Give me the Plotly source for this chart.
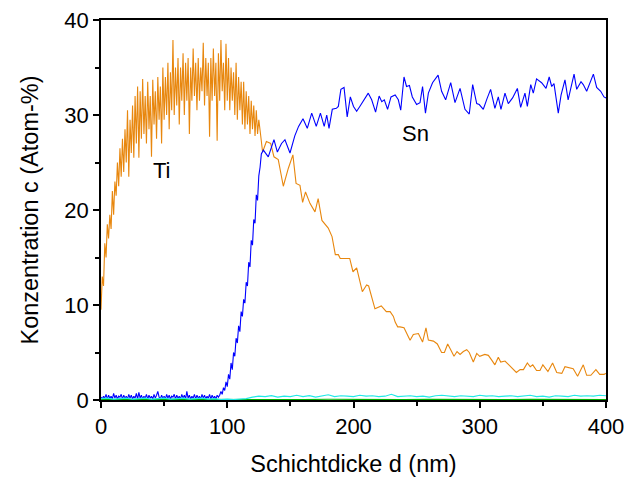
import plotly.graph_objects as go

# ---------------- data ----------------
# Ti, densely sampled part (depth 0..125 nm, 1 nm step)
ti_dense = [9.5, 13.0, 12.0, 16.5, 15.0, 18.5, 17.0, 19.5, 18.0, 22.0,
            19.5, 23.0, 21.5, 25.0, 22.5, 26.5, 23.5, 27.5, 24.0, 28.5,
            25.0, 30.5, 23.5, 29.5, 26.0, 31.0, 25.5, 32.0, 27.0, 33.0,
            25.5, 32.5, 27.5, 33.8, 28.0, 32.0, 27.0, 33.5, 28.5, 32.0,
            25.6, 33.7, 29.0, 32.5, 27.5, 34.0, 29.5, 33.0, 27.0, 35.0,
            29.5, 34.0, 30.0, 35.5, 28.5, 34.5, 30.5, 37.9, 30.0, 35.0,
            31.0, 36.0, 29.0, 35.0, 31.5, 36.5, 30.0, 35.5, 31.5, 36.0,
            28.0, 35.0, 31.5, 37.0, 32.0, 35.5, 30.5, 36.0, 31.5, 35.0,
            32.5, 37.6, 31.0, 36.0, 32.0, 35.5, 27.7, 36.0, 31.5, 37.0,
            32.0, 35.5, 27.3, 36.5, 31.5, 37.9, 32.5, 35.5, 30.5, 37.5,
            31.5, 36.0, 30.5, 35.0, 31.5, 34.5, 30.0, 35.5, 29.5, 34.0,
            30.5, 33.5, 29.0, 33.5, 28.5, 32.5, 29.0, 32.0, 28.0, 31.5,
            28.5, 31.0, 27.8, 30.5, 28.0, 29.5]
ti_dense_step = 1.0

# Ti, coarsely sampled part
ti_sparse_d = [126, 128, 131, 134.4, 137, 140.4, 144.4, 148.4, 152, 154.5,
               157.6, 159.7, 162, 165.5, 169.5, 172, 175, 180, 183, 185.6,
               188, 189.5, 197, 199.6, 202.5, 207, 210.4, 212, 217, 222,
               226, 229, 231.6, 233, 235, 236.8, 240, 244.8, 247.4, 251.4,
               254.7, 257.4, 259.3, 263.3, 266.4, 269.8, 272, 274.6, 277, 279.6,
               282, 284.4, 287, 289.7, 291.7, 294.9, 297.6, 300, 304, 306.8,
               309.5, 312, 314.7, 316.6, 320, 324, 326.5, 329, 332, 334.6,
               337.7, 340, 342, 345, 347.7, 350, 354, 357.7, 361, 365,
               367.5, 371, 374, 377.5, 382, 384.7, 388, 392, 395, 398.4, 400]
ti_sparse_c = [28.4, 26.1, 27.2, 27.0, 25.6, 25.3, 22.5, 24.4, 25.8, 22.8,
               22.6, 20.8, 21.9, 20.7, 19.8, 21.2, 18.9, 18.1, 17.2, 15.3,
               15.3, 14.9, 14.9, 13.5, 13.9, 11.4, 12.1, 12.0, 9.6, 9.9,
               9.3, 9.3, 8.8, 8.2, 7.7, 7.7, 7.6, 6.3, 6.9, 7.0,
               6.1, 7.6, 6.3, 6.2, 5.9, 5.0, 5.0, 5.9, 5.3, 4.6,
               5.1, 4.8, 5.1, 5.3, 5.0, 4.0, 4.9, 4.6, 4.8, 4.7,
               4.2, 3.7, 4.5, 4.0, 4.1, 3.6, 3.2, 2.9, 3.2, 3.2,
               3.9, 3.5, 3.7, 3.1, 3.1, 3.7, 3.0, 3.9, 2.9, 2.8,
               3.5, 3.4, 3.3, 2.5, 3.7, 2.6, 2.6, 3.2, 2.7, 2.7, 2.8]

# Sn, densely sampled part (depth 0..127 nm, 1 nm step)
sn_dense = [0.3, 0.1, 0.4, 0.2, 0.6, 0.1, 0.5, 0.2, 0.4, 0.1, 0.7, 0.2, 0.5, 0.1, 0.4, 0.3, 0.6, 0.1, 0.5, 0.2,
            0.4, 0.1, 0.6, 0.2, 0.5, 0.1, 0.4, 0.2, 0.7, 0.1, 0.8, 0.2, 0.5, 0.1, 0.4, 0.2, 0.6, 0.1, 0.5, 0.2,
            0.4, 0.1, 0.6, 0.2, 0.5, 0.9, 0.3, 0.1, 0.5, 0.2, 0.4, 0.1, 0.6, 0.2, 0.5, 0.1, 0.4, 0.3, 0.6, 0.1,
            0.5, 0.2, 0.4, 0.1, 0.6, 0.2, 0.5, 0.1, 0.9, 0.2, 0.5, 0.1, 0.4, 0.2, 0.6, 0.1, 0.5, 0.2, 0.4, 0.1,
            0.6, 0.2, 0.5, 0.1, 0.4, 0.2, 0.6, 0.1, 0.5, 0.2, 0.4, 0.1, 0.5, 0.3,
            0.5, 0.9, 0.6, 1.3, 1.0, 1.9, 1.4, 2.7, 2.2, 3.9, 3.2, 5.0, 4.6, 6.5, 6.0, 7.8, 7.2, 9.3, 8.8, 10.6,
            10.2, 12.4, 12.0, 14.5, 14.0, 16.8, 16.3, 19.0, 18.6, 21.6, 21.0, 23.6, 24.5, 25.9]
sn_dense_step = 1.0

# Sn, coarsely sampled part
sn_sparse_d = [128.6, 132.5, 137, 139.7, 143, 145.7, 149.7, 153.5, 156.5, 160,
               163.4, 166.9, 170.5, 173.8, 176.8, 178.8, 180.6, 183.2, 186.4, 188,
               190, 192.5, 195, 197.5, 200, 202.5, 205, 208.1, 211.7, 214.4,
               217.5, 220.3, 222.4, 224.4, 227, 229.7, 233, 235.5, 237.4, 240,
               242, 244.3, 246.6, 250, 252.7, 254.7, 257, 259.3, 262.6, 267,
               269.8, 273, 277, 280.4, 284.4, 288.3, 291.7, 294.4, 297.6, 299.6,
               302.8, 305.7, 308.6, 312, 314.7, 316.8, 320, 322.6, 326, 329.8,
               332.4, 335.8, 337.7, 340.4, 342.4, 345, 349, 352.5, 355, 357,
               358.8, 362.2, 364.4, 367.5, 370, 374.7, 376.8, 380.2, 382, 384.7,
               390, 392.6, 395.8, 398.4, 400]
sn_sparse_c = [26.3, 25.6, 27.4, 26.1, 27.0, 27.4, 26.0, 27.8, 28.8, 29.6,
               28.6, 30.2, 28.8, 30.2, 28.8, 30.0, 28.6, 30.6, 30.7, 30.9,
               32.7, 32.9, 29.8, 31.9, 30.9, 30.4, 30.9, 31.6, 32.3, 31.6,
               30.3, 32.0, 31.4, 31.6, 30.6, 31.9, 32.1, 31.6, 30.5, 34.0,
               33.0, 33.1, 31.9, 31.1, 31.3, 33.0, 30.2, 32.3, 33.4, 34.2,
               32.5, 31.6, 33.4, 31.3, 32.8, 30.6, 30.1, 33.2, 31.2, 31.1,
               30.6, 31.7, 32.7, 30.7, 31.9, 30.6, 32.3, 31.2, 31.8, 32.8,
               30.8, 32.3, 30.9, 33.2, 32.3, 33.8, 33.4, 32.8, 34.0, 33.0,
               33.3, 30.2, 32.1, 33.7, 31.6, 34.3, 32.7, 33.5, 33.2, 32.5,
               34.3, 32.9, 32.5, 31.9, 31.8]

# minor elements (5 nm step from 0 nm)
cyan_c = [0.15, 0.2, 0.1, 0.15, 0.2, 0.1, 0.15, 0.2, 0.1, 0.15, 0.2, 0.1, 0.15, 0.2, 0.1, 0.15, 0.2, 0.1, 0.15,
          0.05, 0.1, 0.05, 0.1, 0.15,
          0.3, 0.4, 0.35, 0.45, 0.3, 0.4, 0.35, 0.5, 0.35, 0.45, 0.3, 0.4, 0.55, 0.35, 0.45, 0.4, 0.35, 0.5, 0.4, 0.45,
          0.35, 0.4, 0.6, 0.35, 0.4, 0.45, 0.35, 0.4, 0.3, 0.45, 0.5, 0.4, 0.35, 0.45, 0.4, 0.35, 0.5, 0.4, 0.45, 0.35,
          0.4, 0.45, 0.35, 0.4, 0.5, 0.35, 0.4, 0.3, 0.45, 0.4, 0.35, 0.5, 0.4, 0.45, 0.4, 0.5, 0.45]
cyan_step = 5.0
green_c = [0.05, 0.08, 0.04, 0.06, 0.05, 0.07, 0.04, 0.06, 0.05, 0.08, 0.05,
           0.06, 0.04, 0.07, 0.05, 0.06, 0.05, 0.07, 0.04, 0.06, 0.05]
green_step = 20.0

x_ticks = [0, 100, 200, 300, 400]
y_ticks = [0, 10, 20, 30, 40]

# ---------------- figure ----------------
ti_d = [i * ti_dense_step for i in range(len(ti_dense))] + ti_sparse_d
ti_c = ti_dense + ti_sparse_c
sn_d = [i * sn_dense_step for i in range(len(sn_dense))] + sn_sparse_d
sn_c = sn_dense + sn_sparse_c
cy_d = [i * cyan_step for i in range(len(cyan_c))]
gr_d = [i * green_step for i in range(len(green_c))]

fig = go.Figure()
fig.add_trace(go.Scatter(x=ti_d, y=ti_c, mode="lines", line=dict(color="#E8870E", width=1.1)))
fig.add_trace(go.Scatter(x=sn_d, y=sn_c, mode="lines", line=dict(color="#0000FF", width=1.1)))
fig.add_trace(go.Scatter(x=gr_d, y=green_c, mode="lines", line=dict(color="#00B000", width=1.2)))
fig.add_trace(go.Scatter(x=cy_d, y=cyan_c, mode="lines", line=dict(color="#22E8E8", width=1.2)))

font_family = "Liberation Sans, Arial, sans-serif"
axis_common = dict(
    showline=True, linecolor="black", linewidth=1.5, mirror=True,
    ticks="outside", ticklen=6, tickwidth=1.5, tickcolor="black",
    showgrid=False, zeroline=False, automargin=False,
    ticklabeloverflow="allow",
    tickfont=dict(family=font_family, size=22, color="black"),
)

fig.update_layout(
    width=624, height=477,
    margin=dict(l=101, r=18, t=20, b=77),
    paper_bgcolor="white", plot_bgcolor="white",
    showlegend=False,
    font=dict(family=font_family, color="black"),
    xaxis=dict(range=[0, 400], tickvals=x_ticks,
               title=dict(text="Schichtdicke d (nm)", font=dict(size=23.5, family=font_family), standoff=17),
               minor=dict(ticks="outside", ticklen=4, tickwidth=1.5, tickcolor="black", dtick=50, showgrid=False),
               **axis_common),
    yaxis=dict(range=[0, 40], tickvals=y_ticks,
               title=dict(text="Konzentration c (Atom-%)", font=dict(size=23.5, family=font_family), standoff=19),
               minor=dict(ticks="outside", ticklen=4, tickwidth=1.5, tickcolor="black", dtick=5, showgrid=False),
               **axis_common),
    annotations=[
        dict(x=48, y=24.2, xref="x", yref="y", text="Ti", showarrow=False,
             font=dict(size=22, family=font_family, color="black")),
        dict(x=249, y=28.1, xref="x", yref="y", text="Sn", showarrow=False,
             font=dict(size=22, family=font_family, color="black")),
    ],
)

# remove the browser's default page margin so the figure fills the window exactly
fig.write_html(
    "out.html",
    config={"displayModeBar": False},
    post_script="document.body.style.margin='0';document.body.style.overflow='hidden';",
)
